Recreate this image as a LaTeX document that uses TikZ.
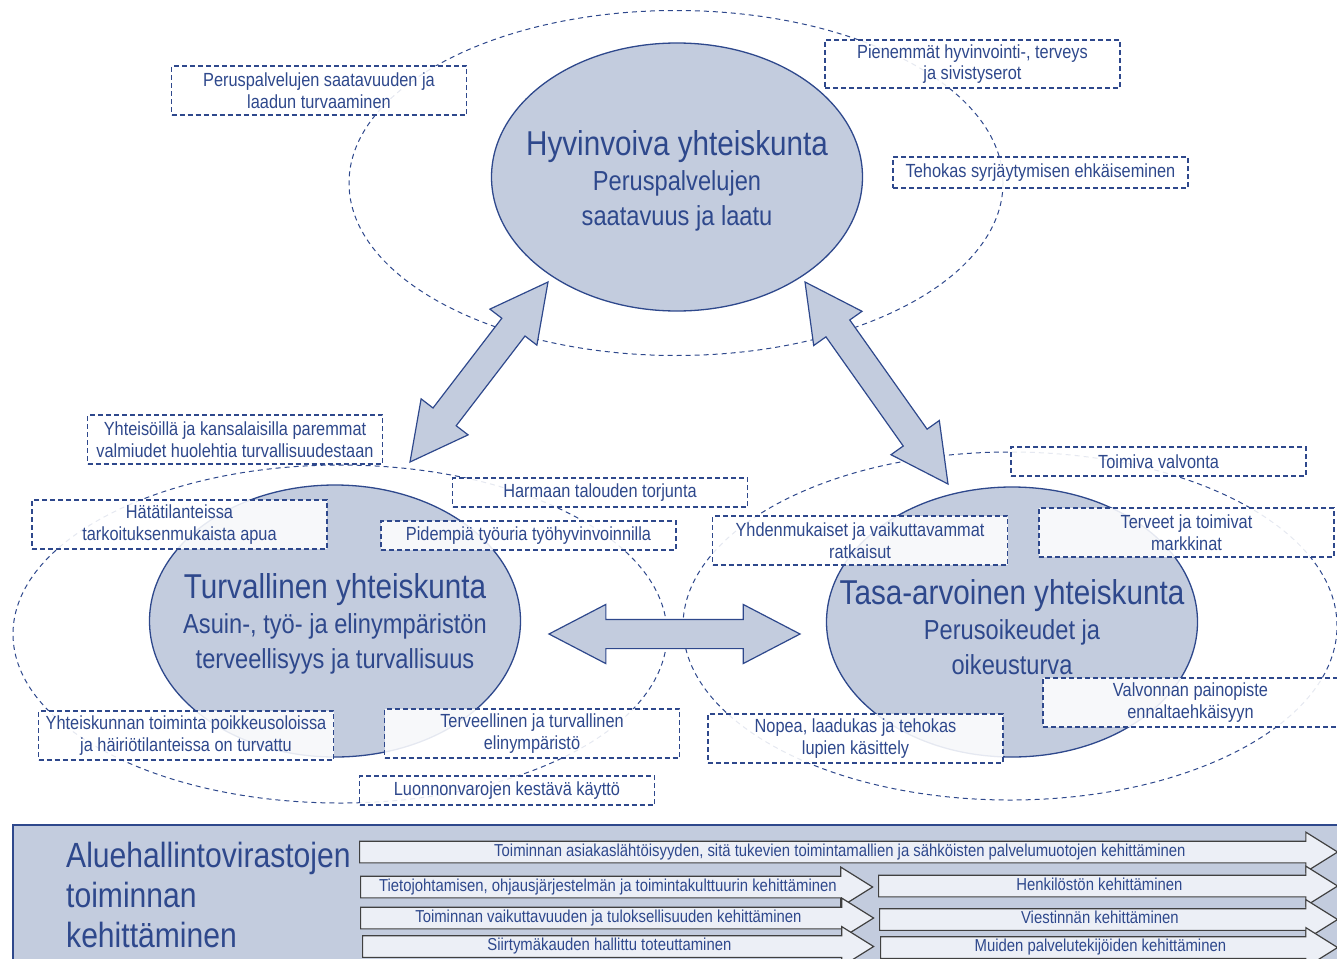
\documentclass[tikz,border=0pt]{standalone}
\usepackage{fontspec}
\setmainfont[FakeStretch=0.86]{Liberation Sans}
\usetikzlibrary{shapes.geometric,shapes.arrows,calc}
\definecolor{avi}{RGB}{46,72,140}
\definecolor{avifill}{RGB}{195,204,222}
\definecolor{avilight}{RGB}{236,239,246}
\tikzset{
	ring/.style = {ellipse, draw=avi, dash pattern=on 5pt off 4pt,
		line width=1pt, inner sep=0pt, minimum width=654pt, minimum height=#1},
	ring/.default = 345pt,
	society/.style = {ellipse, draw=avi, line width=1.3pt, fill=avifill,
		inner sep=0pt, minimum width=371pt, minimum height=#1},
	society/.default = 268pt,
	heading/.style = {text=avi, align=center, inner sep=0pt,
		font=\fontsize{27.5}{35}\selectfont},
	goal/.style = {draw=avi, dash pattern=on 5pt off 3pt, line width=1.3pt,
		fill=white, fill opacity=0.88, text opacity=1, text=avi, align=center,
		minimum width=295pt, minimum height=#1, inner sep=2pt,
		font=\fontsize{19}{21.5}\selectfont},
	goal/.default = 29pt,
	twoway/.style = {double arrow, draw=avi, line width=1.2pt, fill=avifill,
		inner xsep=0pt, inner ysep=14pt, double arrow head extend=15pt,
		double arrow tip angle=55},
	task/.style = {single arrow, draw=black!75, line width=1.2pt, fill=avilight,
		text=avi, inner xsep=0pt, inner ysep=2.5pt, text height=12pt, text depth=3.5pt,
		single arrow head extend=9pt, single arrow tip angle=64, anchor=tail,
		font=\fontsize{17.3}{18}\selectfont, minimum height=#1}
}

\begin{document}
\begin{tikzpicture}[x=1pt, y=-1pt]
\useasboundingbox (0,0) rectangle (1337,958);

% dashed rings
\node[ring] (r1) at (676,183) {};
\node[ring=338pt] (r2) at (340,634) {};
\node[ring=348pt] (r3) at (1010,626) {};

% the three societies
\node[society] (hvv) at (677,177) {};
\node[heading] at ($(hvv)+(0,4)$) {{\fontsize{34.5}{35}\selectfont Hyvinvoiva yhteiskunta}\\Peruspalvelujen\\saatavuus ja laatu};
\node[society=272pt] (turv) at (335,621) {};
\node[heading] at ($(turv)+(0,3)$) {{\fontsize{34.5}{35}\selectfont Turvallinen yhteiskunta}\\Asuin-, työ- ja elinympäristön\\terveellisyys ja turvallisuus};
\node[society=270pt] (tasa) at (1012,622) {};
\node[heading] at ($(tasa)+(0,5)$) {{\fontsize{34.5}{35}\selectfont Tasa-arvoinen yhteiskunta}\\Perusoikeudet ja\\oikeusturva};

% block arrows
\coordinate (a1) at (410,462);
\coordinate (a2) at (548,282);
\coordinate (a3) at (948,484);
\coordinate (a4) at (805,282);
\coordinate (a5) at (549,634);
\coordinate (a6) at (800,634);
\path let \p1 = ($(a2)-(a1)$), \n1 = {veclen(\x1,\y1)} in
	(a1) -- (a2) node[twoway, midway, sloped, minimum height=\n1] {};
\path let \p1 = ($(a4)-(a3)$), \n1 = {veclen(\x1,\y1)} in
	(a3) -- (a4) node[twoway, midway, sloped, minimum height=\n1] {};
\path let \p1 = ($(a6)-(a5)$), \n1 = {veclen(\x1,\y1)} in
	(a5) -- (a6) node[twoway, midway, sloped, minimum height=\n1] {};

% goals
\node[goal=49pt] (g1) at (319,90.5) {Peruspalvelujen saatavuuden ja\\laadun turvaaminen};
\node[goal=48pt] (g2) at (972.5,64) {Pienemmät hyvinvointi-, terveys\\ja sivistyserot};
\node[goal=31pt] (g3) at (1040.5,172.5) {Tehokas syrjäytymisen ehkäiseminen};
\node[goal=49pt] (g4) at (235,439.5) {Yhteisöillä ja kansalaisilla paremmat\\valmiudet huolehtia turvallisuudestaan};
\node[goal] (g5) at (600,492.5) {Harmaan talouden torjunta};
\node[goal=49pt] (g6) at (179.5,524.5) {Hätätilanteissa\\tarkoituksenmukaista apua};
\node[goal] (g7) at (528.5,535.5) {Pidempiä työuria työhyvinvoinnilla};
\node[goal=49pt] (g8) at (186,735.5) {Yhteiskunnan toiminta poikkeusoloissa\\ja häiriötilanteissa on turvattu};
\node[goal=49pt] (g9) at (532,733.5) {Terveellinen ja turvallinen\\elinympäristö};
\node[goal] (g10) at (507,790.5) {Luonnonvarojen kestävä käyttö};
\node[goal] (g11) at (1158.5,461.5) {Toimiva valvonta};
\node[goal=49pt] (g12) at (860,540.5) {Yhdenmukaiset ja vaikuttavammat\\ratkaisut};
\node[goal=49pt] (g13) at (1186.5,532.5) {Terveet ja toimivat\\markkinat};
\node[goal=49pt] (g14) at (1190.5,702.5) {Valvonnan painopiste\\ennaltaehkäisyyn};
\node[goal=49pt] (g15) at (855.5,738.5) {Nopea, laadukas ja tehokas\\lupien käsittely};

% development panel
\fill[avifill] (13,825) rectangle (1350,970);
\draw[avi, line width=1.2pt] (13,970) -- (13,825) -- (1350,825);
\node[anchor=north west, align=left, inner sep=0pt, text=avi,
	font=\fontsize{35}{40}\selectfont] (avit) at (66,842) {Aluehallintovirastojen\\toiminnan\\kehittäminen};

\node[task=978pt] (t1) at (359,852) {Toiminnan asiakaslähtöisyyden, sitä tukevien toimintamallien ja sähköisten palvelumuotojen kehittäminen};
\node[task=512pt] (t2) at (360,887) {Tietojohtamisen, ohjausjärjestelmän ja toimintakulttuurin kehittäminen};
\node[task=459pt] (t3) at (878,886) {Henkilöstön kehittäminen};
\node[task=513pt] (t4) at (360,918) {Toiminnan vaikuttavuuden ja tuloksellisuuden kehittäminen};
\node[task=458pt] (t5) at (879,919.5) {Viestinnän kehittäminen};
\node[task=511pt] (t6) at (362,946.5) {Siirtymäkauden hallittu toteuttaminen};
\node[task=457pt] (t7) at (880,947.5) {Muiden palvelutekijöiden kehittäminen};
\end{tikzpicture}
\end{document}
